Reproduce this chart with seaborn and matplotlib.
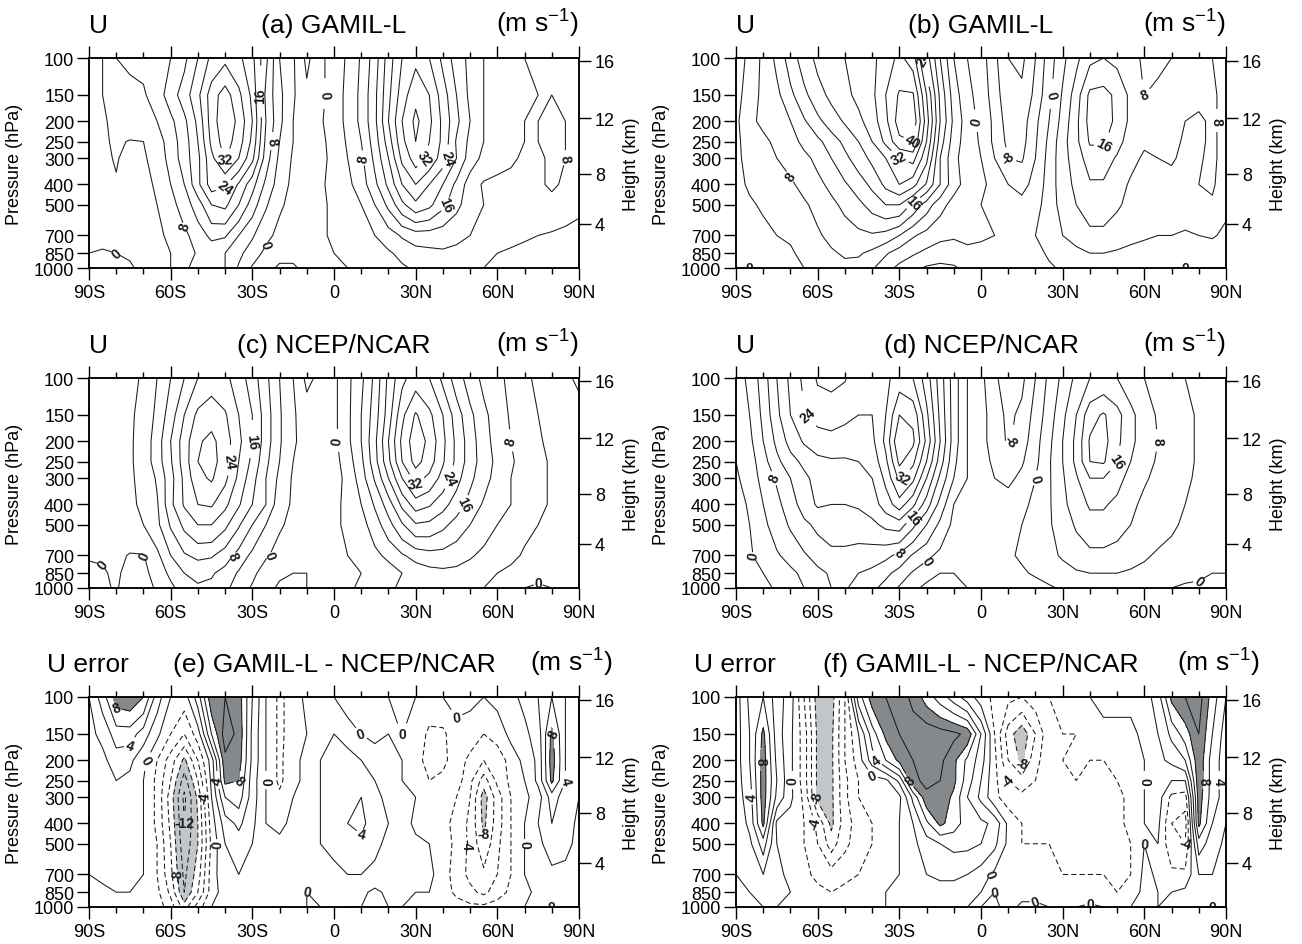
import numpy as np
import matplotlib
matplotlib.use("Agg")
import matplotlib.pyplot as plt
from matplotlib.ticker import FixedLocator, FixedFormatter, NullLocator
import seaborn as sns

# ---------------- data ----------------
PLEV = [100, 150, 200, 250, 300, 400, 500, 700, 850, 1000]
LATS = list(range(-90, 91, 5))
P_TICKS = [100, 150, 200, 250, 300, 400, 500, 700, 850, 1000]
LAT_TICKS = [-90, -60, -30, 0, 30, 60, 90]
LAT_LABELS = ["90S", "60S", "30S", "0", "30N", "60N", "90N"]
LAT_MINOR = [-80, -70, -50, -40, -20, -10, 10, 20, 40, 50, 70, 80]
HEIGHT_KM = [4, 8, 12, 16]

# rows = PLEV (100 ... 1000 hPa), columns = LATS (90S ... 90N every 5 deg)
U_A = [
    [3, 4, 8, 9, 9, 10, 12, 15, 20, 25, 27, 25, 21, 13, 4, 0.5, -5, -1, 2, 4.5, 8.5, 14, 22, 28, 31, 28, 23, 18, 15, 12, 10, 9, 8, 8, 7, 6, 5],
    [3, 4, 5.5, 6.5, 7.5, 10, 14, 18, 23, 30, 34, 29, 23, 11, 5, 0.5, -3, -1, 2, 5, 9, 15, 23, 30, 35, 32, 26, 20, 15, 12, 10, 9, 8.5, 8, 8, 7, 6],
    [3, 3.5, 5, 6, 7, 8, 11, 15, 21, 30, 35, 31, 24, 12, 5, 0, -2, -0.5, 2, 5, 9, 15, 24, 32, 37, 33, 27, 21, 16, 12, 10, 9, 8, 8, 8.5, 8, 7],
    [3, 3.5, 4.5, 3.8, 4, 6, 10, 14, 20, 29, 34, 30, 23, 11, 4, 0, -1.5, -1, 1.5, 4.5, 8, 14, 22, 31, 36, 32, 27, 19.5, 15, 12, 10, 9, 8, 8, 8.5, 8, 7],
    [3, 3.5, 4.2, 3.2, 3.5, 5.5, 9.5, 14, 19, 27, 32.5, 28, 21, 10, 3, -0.5, -2, -1, 1, 4, 7, 13, 20, 29, 34, 31, 26, 20, 14, 11, 9.5, 8.5, 7.5, 7.5, 8.5, 8, 7],
    [3, 3, 3.8, 3, 3, 4.5, 8, 12, 19, 26, 24.5, 19.5, 13.5, 7, 2, -1, -2, -0.5, 1, 3, 6, 11, 17, 24, 28, 24, 20, 15, 10, 7.5, 7, 7, 7, 7.5, 8.5, 7.5, 6],
    [2.5, 2.5, 3, 2.5, 2.5, 4, 6.5, 10, 14, 20, 21, 16, 10, 4.5, 0.5, -1, -1.5, -0.5, 0.5, 2, 4, 8, 13, 19, 23, 21, 17, 13, 10, 8, 7, 6.5, 6.5, 6.5, 7, 6, 5],
    [1, 1.5, 2, 2.5, 3, 3.5, 4.5, 7, 10, 13, 12.5, 8, 4.5, 1, -1, -1.5, -1.5, -0.5, 0.5, 1.5, 2.5, 4, 6, 8.5, 10, 10, 9.5, 9, 8, 7, 5.5, 5, 4.5, 4, 3.5, 3, 2.5],
    [0, -0.5, 0, 0.5, 1.5, 3, 4, 6, 8.5, 9.5, 8, 5, 2, -1, -3, -3, -2, -1, 0, 1, 1.5, 2.5, 3.5, 5, 6.5, 7, 7.5, 7, 6.5, 5, 4, 3.5, 3, 2.5, 2, 1.5, 1],
    [-0.5, -1, -1, -0.5, 1, 2.5, 4, 7.5, 9, 9.5, 8, 3.5, -0.5, -3, -4.5, -4.5, -3, -1.5, -0.5, 0, 1, 1.5, 2.5, 3.5, 4.5, 5.5, 6, 5.5, 5, 4, 3, 2, 1.5, 1, 1, 0.5, 0],
]

U_B = [
    [2, 5, 9, 13, 18, 22, 25, 27, 28, 29, 31, 34, 37, 34, 22, 12, 4, 0, -2, -7, -12, -13, -8, -2, 3, 7, 11, 12, 11, 9, 7.5, 7, 8, 8.5, 9, 8, 6],
    [2.5, 6, 9, 11, 15, 19, 22.5, 25, 27, 29, 31, 36, 40.5, 40.5, 28, 15, 6, 1, -1.5, -6, -11, -11, -7, -1, 4.5, 10, 17, 17.5, 15, 11, 8, 9, 10, 9, 9.5, 9, 6],
    [3, 7.5, 8.5, 9.5, 12, 15.5, 19, 22, 24.5, 27, 30, 35, 42, 43, 30, 16, 7, 2, -1, -5, -10, -10, -5, 0, 5.5, 11, 17.5, 18, 15, 11, 8.5, 9.5, 10, 8, 7, 9, 6],
    [3, 6, 7.5, 8.5, 10.5, 13, 15, 18, 21, 24, 28, 33, 39, 40, 28, 14, 6, 2, -0.5, -5, -9, -9.5, -4.5, 1, 6.5, 11, 16.5, 16.5, 13.5, 10, 8.5, 9, 9, 7.5, 7, 9, 6],
    [3, 5.5, 6.5, 8, 9, 11, 13, 16, 19, 22, 25, 28, 32, 33.5, 25, 12, 5, 2, 0, -4, -8, -8.5, -4, 1.5, 6.5, 10, 14, 14, 11.5, 9, 7.5, 8, 8.5, 7, 7.5, 9, 6],
    [3, 4.5, 5.5, 6.5, 7.5, 9, 11, 13, 15.5, 18, 21, 25, 28, 25.5, 19.5, 12, 5.5, 2.5, 1, -1.5, -4, -5, -3, 2, 6, 9, 11.5, 11.5, 9.5, 7.5, 6.5, 6.5, 6.5, 6.5, 8, 8.5, 6],
    [2.5, 3.5, 4.5, 5, 6, 7.5, 9, 11, 13, 15, 17.5, 20, 20, 15, 10, 5.5, 2.5, 1, 0, -1, -2.5, -3, -1.5, 2, 5.5, 8, 10, 10, 8.5, 7, 6, 5.5, 5.5, 6, 7.5, 7.5, 5],
    [1.5, 2, 3, 4, 4.5, 6, 7.5, 9, 10, 11, 11.5, 10.5, 8, 4.5, 2.5, 1, 0.5, 1, 0.5, 0, -1, -1, 0, 1.5, 4, 5.5, 7, 7, 6, 5, 4.5, 4, 4, 3.5, 4, 4.5, 3],
    [0.5, 1, 1.5, 2.5, 3.5, 5, 6.5, 7.5, 8.5, 8.5, 7, 4.5, 2, 0.5, -1, -2, -2, -1, -1, -1, -1.5, -2, -1, 0.5, 2, 3, 4, 4, 3.5, 3, 2.5, 2, 1.5, 1.5, 1.5, 1.5, 1],
    [0, 0, 0.5, 1.5, 2.5, 4, 5.5, 6.5, 7, 6.5, 4.5, 1.5, -1, -3, -4.5, -5, -4.5, -3, -1.5, -2, -3, -4, -3.5, -0.5, 0.5, 1, 1.5, 1.5, 1.5, 1, 0.5, 0.5, 0, 0, 0, 0, 0],
]

U_C = [
    [2, 2, 2.5, 3, 4.5, 8, 12, 16, 20, 22, 21, 18, 14, 9, 4, 0, -5, -3, -1, 3, 7, 13, 21, 27, 30, 28, 23, 18, 14, 11, 9, 7, 4.5, 3.5, 2, 0.5, -0.5],
    [2, 2, 3, 3.5, 5, 9, 14, 20, 25, 26.5, 24.5, 20, 16, 10, 4.5, 0.5, -2, -2, -1, 3, 8, 14, 22, 31, 36.5, 33, 28, 22, 17, 13, 10, 7.5, 5.5, 4, 3, 2, 1],
    [2, 2, 3, 3.5, 5.5, 10, 16, 22, 27.5, 29, 26, 21, 16, 10, 4.5, 0.5, -1.5, -2, -1, 3, 8, 15, 24, 33, 38.5, 35, 29, 23, 18, 13.5, 10.5, 8, 6, 4.5, 3, 2, 1.5],
    [2, 2, 3, 3.5, 5.5, 10, 15.5, 22, 28, 29.5, 26, 20, 15, 9, 4, 0, -1.5, -2, -1.5, 2, 7, 14.5, 23, 32, 37.5, 34, 28.5, 23, 18, 14, 11, 8.5, 6.5, 5, 3.5, 2.5, 2],
    [2, 2, 3, 3.5, 5, 8.5, 14.5, 21, 27, 28.5, 25, 19, 13.5, 8, 3, -0.5, -1.5, -2, -1.5, 1, 6, 12.5, 20, 28, 33.5, 31, 26.5, 21.5, 17, 13.5, 10.5, 8, 6.5, 5, 3.5, 2.5, 2],
    [2, 2, 3, 3.5, 4.5, 7.5, 15, 20.5, 24, 24.5, 21, 16.5, 12, 8, 1.5, -0.5, -1.5, -1.5, -1, 1, 4, 8.5, 14, 21, 26, 24.5, 21.5, 18, 14.5, 11.5, 9.5, 8, 6.5, 5, 3.5, 2.5, 2],
    [2, 2, 2.5, 3, 4, 7, 12.5, 17, 20, 20, 17, 12.5, 8, 4, 0.5, -1, -2, -1.5, -0.5, 0.5, 2.5, 6, 10.5, 15.5, 19.5, 19, 17, 14.5, 12, 10, 8, 6.5, 5, 4, 3, 2, 1.5],
    [0.2, 0.3, 1, -0.3, -0.2, 3, 8, 11.5, 13, 12.5, 10, 6.5, 3, 0.5, -1.5, -2.5, -3, -2, -1, 0, 1, 3, 5, 7.5, 9.5, 10.5, 10.5, 9.5, 8.5, 7, 6, 5, 3.5, 2.5, 2, 1.5, 1],
    [-0.5, -0.3, 0.5, -1, -1, 1.5, 5, 8, 9, 8.5, 6.5, 3.5, 1, -2, -3.5, -4, -4, -3, -2, -0.5, 0, 1, 2, 4, 5.5, 6.5, 7, 7, 6, 5, 4, 3, 2, 1, 0.5, 0.5, 1],
    [-1, -0.5, 0.3, -1.5, -1.5, 0.5, 3, 6, 7.5, 7, 5, 2, -0.5, -3, -4.5, -4.5, -4, -3, -2, -0.5, 0.5, 2, 3.5, 4.5, 5.5, 6, 6, 6, 5, 4, 2.5, 1, 0, -0.5, 0, 0.5, 0.5],
]

U_D = [
    [2, 5, 10, 16, 21, 25, 28.5, 29, 28.3, 26, 25, 27, 30, 28, 22, 14, 6, 0, -3, -7, -11, -9, -4, 1, 5, 9, 12, 13, 12, 10, 8, 6, 5, 4, 3, 2.5, 2],
    [1.5, 4, 9, 15, 20, 23.5, 25.5, 26, 25, 24, 24, 28, 36, 35, 25, 15, 6, 0, -2.5, -6, -9, -7, -2.5, 2, 7, 12, 18.5, 20.5, 17.5, 13, 10, 7.5, 6, 5, 3.5, 2.5, 2],
    [1, 3, 8, 13, 17.5, 20.5, 22, 22.5, 22, 22, 23, 29, 40, 37, 27, 16, 6, 0, -2.5, -6, -8.5, -6, -1.5, 3, 8, 13, 20.5, 21.5, 17, 13, 10, 8, 6.5, 5, 3.5, 2.5, 2],
    [0, 2, 6.5, 11, 14.5, 17, 19, 19.5, 19.5, 20, 21.5, 27, 37, 33, 24, 14, 5, 0, -2, -5, -6.5, -4.5, -1, 3.5, 8, 13, 20, 20.5, 16, 12, 9.5, 7.5, 6, 5, 3.5, 2.5, 2],
    [-0.5, 1.5, 5.5, 8.5, 12, 15, 17.5, 17.5, 17.5, 18, 20, 25, 33, 29, 20, 11, 4, 0, -1.5, -4, -5, -3, 0, 3.5, 7.5, 11.5, 16, 16, 13.5, 10.5, 8.5, 7, 5.5, 4.5, 3.5, 2.5, 2],
    [-1.5, 0.5, 4, 7, 10, 14, 16.5, 16, 16, 16.5, 18, 22, 26, 21, 14, 6.5, 0, -1, -0.5, -1.5, -2, -1, 1, 3.5, 7, 10, 12.5, 12.5, 11, 9, 7, 6, 5, 4, 3, 2, 1.5],
    [-2, 0, 3, 6, 8.5, 11, 13, 14, 14, 14, 15, 17, 18, 13, 8, 3, -1, -1.5, -0.5, -0.5, -1, 0, 1.5, 3.5, 6, 8.5, 10.5, 10.5, 9.5, 8, 6.5, 5.5, 4.5, 3.5, 2.5, 1.5, 1],
    [-1.5, -0.5, 1.5, 3.5, 5.5, 7.5, 9.5, 11, 11, 10.5, 10, 9, 7, 3.5, 1, -1, -2, -1.5, -0.5, 0, -0.5, 0.5, 1.5, 3, 4.5, 6, 7, 7, 6.5, 5.5, 4.5, 3.5, 3, 2, 1.5, 1, 0.5],
    [-1, -1, 0, 1.5, 3, 5, 7, 8.5, 8.5, 8, 7, 5, 2.5, -0.5, -2.5, -4, -4, -3, -1.5, -0.5, -1, -0.5, 0.5, 1.5, 2.5, 3.5, 4, 4, 4, 3.5, 3, 2, 1.5, 1, 0.5, 0, 0],
    [-1, -1.5, -1, 0.5, 2, 4, 6, 8, 8.3, 7, 5, 2.5, -0.5, -3, -5, -6, -5.5, -4, -2, -0.5, -1, -2, -1.5, -0.5, 0.5, 1.5, 2, 2, 2, 1.5, 1, 0.5, 0, -0.5, -0.5, -0.5, -0.5],
]

# (e) GAMIL-L - NCEP/NCAR (left column)
U_E = [
    [2, 5, 9, 9.5, 8, 3, 0, -1, 3, 9.5, 10, 9, 4, 0, -2.5, -1, 0.5, 1, 0, -1, -1, -0.5, 0, 0.5, 0, -0.5, 0, 0.5, 0.5, 0, 0.5, 1.5, 2.5, 4, 6, 4, 2],
    [1.5, 2.5, 5, 5, 3, 0.5, -2, -4, -1, 6, 11, 9.5, 3.5, 0, -2.5, -1, 0, 1, 2, 1, 0, -0.5, 0, 0, -0.5, -2.5, -2.5, -0.5, -1, -2, -1, 0.5, 1.5, 3, 8.5, 4, 2],
    [1, 1.5, 3, 2.5, 0.5, -2, -5, -8.5, -4, 1, 9.5, 9, 3.5, 0, -2.5, -0.5, 0.5, 2, 3.5, 3, 2, 1, 0.5, 0, -1, -3, -2.5, -1, -2.5, -4, -3.5, -1, 0.5, 2.5, 9, 4, 2],
    [1, 1, 2, 1.5, 0, -2.5, -6, -11, -6, 0.5, 8.5, 8, 3, 0, -2.5, -0.5, 0.5, 2, 3.5, 3.5, 3, 2, 1, 0, -0.5, -2, -1.5, -1, -3.5, -7, -3.5, -1.5, 0, 2.5, 8.5, 4, 2],
    [1, 1, 1.5, 1, 0, -2.5, -7, -12.5, -7.5, 0, 6, 7, 3, 0, -1.5, 0, 0.5, 2, 3.5, 4, 4, 2.5, 1.5, 0.5, 0, -1, -1.5, -2, -4, -9, -5, -2, -0.5, 1, 5, 3, 2],
    [0.5, 1, 1, 0.5, 0, -2.5, -6.5, -12, -8, -1, 3, 4.5, 2.5, 0, -0.5, 0.5, 1, 2, 3, 4, 4.5, 3, 2, 1, -0.5, -1, -1.5, -2.5, -4.5, -8.5, -5, -2, 0, 2, 4, 3, 1.5],
    [0.5, 0.5, 1, 0.5, 0, -2, -6, -11.5, -8, -1.5, 2, 3, 2, 0.5, 0.5, 1, 1.5, 2, 2.5, 3.5, 3.5, 2.5, 1.5, 1, 0.5, 0, -1, -2.5, -4.5, -7.5, -4.5, -2, 0, 1.5, 3, 2.5, 1.5],
    [0, 0.5, 0.5, 0.5, 0, -2, -5.5, -10.5, -7, -1, 1.5, 2, 1.5, 1, 1, 1.5, 1, 1, 1.5, 2, 2, 1.5, 1, 0.5, 0.5, 0.5, -1, -3, -4.5, -5.5, -4, -2, 0, 1, 1.5, 1.5, 1],
    [0, -0.5, 0, 0, 0, -1.5, -4.5, -10, -6, -1, 1, 1, 1, 0.5, 0.5, 0.5, 0, 0.5, 0.5, 0.5, 0.5, -0.5, 0.5, 0.5, 0, 0, -1, -2.5, -3.5, -4.5, -3, -1.5, -0.5, 0.5, 0.5, 0.5, 0.5],
    [0, 0, 0, 0, 0, -1, -3, -7, -3, 0, 0.5, 0.5, 0.5, 0, 0.3, 0.3, 0, 0, 0.3, 0, 0, 0, 0, 0, 0, 0, -0.5, -1, -1.5, -1.5, -1, -0.5, 0, 0.5, 0, 0, 0],
]

# (f) GAMIL-L - NCEP/NCAR (right column)
U_F = [
    [1, 4.5, 6, 3, 1, -4, -9, -9, -4, 5, 9, 10, 11, 9.5, 7, 5, 3, 1, -1, -2.5, -3.5, -4, -3, -2, -1, -1, 0, 1, 1, 0.5, 1, 3, 8.5, 10, 11, 7, 4],
    [1, 4, 8.5, 3, 0.5, -3, -8.5, -8.5, -4, 0, 5, 8.5, 10, 11, 11.5, 11, 10.5, 9.5, 4, -2, -7, -9.5, -6, -2.5, -2, -2, -1.5, -1, -1, -0.5, 0.5, 2, 4.5, 7, 10, 6, 3],
    [1, 4, 9, 3.5, 0.5, -3, -8.5, -8.5, -4, -1, 3, 6, 8.5, 10, 11, 10.5, 8.5, 5.5, 3, -1.5, -6, -8.5, -4.5, -3, -2, -1.5, -2, -2, -1.5, -1, 0, 1.5, 2.5, 4, 9.5, 5, 3],
    [1, 3.5, 9, 4, 0.5, -3, -8.5, -8.5, -4.5, -2, -1, -0.5, 2.5, 9.5, 10.5, 10, 8.5, 5, 2, -1.5, -4, -5, -4, -3, -2.5, -2, -2, -2, -2, -1, 0, 1, 0, 0, 9.5, 5, 3],
    [1, 3, 9, 3.5, 0.5, -2.5, -8.5, -8.5, -4.5, -2, -1, -1, -0.5, 4.5, 9.5, 9.5, 7.5, 4, 1.5, -1.5, -3, -3.5, -3, -2.5, -2.5, -2, -2, -2.5, -2.5, -1.5, 0, 1, -2.5, -3, 9, 5, 3],
    [0.5, 2.5, 8.5, -0.5, -1, -2, -4.5, -8.5, -5, -3, -2, -1, 0, 2, 5.5, 8.5, 7, 5, 4.5, 3.5, -0.5, -2, -2.5, -2.5, -2.5, -2.5, -2.5, -2.5, -2.5, -1.5, 0, 0.5, -4, -5, 8.5, 4, 2],
    [0.5, 1.5, 5, 0, -1, -2, -4, -7, -4.5, -3, -2, -1, 0, 1.5, 3, 4, 4.5, 4.5, 4, 2.5, -0.5, -2, -2, -2, -2.5, -2.5, -2.5, -2.5, -2.5, -2, 0, 0, -3.5, -4, 5, 3, 1.5],
    [0, 0.5, 2, 0.5, -0.5, -1.5, -2.5, -3, -2.5, -2, -1.5, -1, 0, 1, 2, 2.5, 2.5, 2, 1, -0.5, -0.5, -1, -1.5, -1.5, -2, -2, -2, -2, -2.5, -2, 0.5, -0.3, -1.5, -1.5, 2, 2, 1],
    [0, 0, 0.5, 0.5, 0, -0.5, -1.5, -2, -1.5, -1, -0.5, 0, 0.5, 1, 1, 1, 1, 0.5, 0, 0, -0.5, -0.5, -0.5, -1, -1, -1, -1, -1.5, -2, -1, 0.5, 0, 0, 0.5, 1, 1, 0.5],
    [0, 0, 0, 0, 0, 0, -0.5, -0.5, -0.5, -0.3, 0, 0, 0.3, 0.5, 0.5, 0.5, 0.5, 0, 0, 0.3, -0.5, 0.3, 0.3, 0, 0, 0, 0.3, 0, -0.5, 0, 0.5, 0, 0.3, 0.5, 0.5, 0, 0],
]

TITLES = [
    ("U", "(a) GAMIL-L"), ("U", "(b) GAMIL-L"),
    ("U", "(c) NCEP/NCAR"), ("U", "(d) NCEP/NCAR"),
    ("U error", "(e) GAMIL-L - NCEP/NCAR"), ("U error", "(f) GAMIL-L - NCEP/NCAR"),
]
UNITS = r"(m s$^{-1}$)"

# ---------------- style ----------------
sns.set_theme(style="ticks", rc={
    "axes.edgecolor": "black", "axes.linewidth": 1.1,
    "xtick.color": "black", "ytick.color": "black",
    "text.color": "black", "axes.labelcolor": "black",
})
plt.rcParams["font.family"] = ["Liberation Sans", "DejaVu Sans"]
plt.rcParams["mathtext.fontset"] = "custom"
plt.rcParams["mathtext.rm"] = "Liberation Sans"
plt.rcParams["mathtext.default"] = "regular"

shade = sns.color_palette(["#c3c6c9", "#86898c"])
LIGHT, DARK = shade[0], shade[1]

W, H = 1302, 945
COL_LEFT = [89, 736]
ROW_TOP = [59, 379, 698]
AW, AH = 490, 210


def z_to_p(zkm):
    z = zkm * 1000.0
    if z <= 11000:
        return 1013.25 * (1 - 0.0065 * z / 288.15) ** 5.25588
    return 226.32 * np.exp(-(z - 11000) / 6341.62)


fig = plt.figure(figsize=(W / 100, H / 100), dpi=100)

fields = [U_A, U_B, U_C, U_D, U_E, U_F]
for i, fld in enumerate(fields):
    field = np.array(fld, float)
    assert field.shape == (len(PLEV), len(LATS)), (i, field.shape)
    diff = i >= 4
    r, c = divmod(i, 2)
    l, t = COL_LEFT[c], ROW_TOP[r]
    ax = fig.add_axes([l / W, 1 - (t + AH) / H, AW / W, AH / H])
    X, Y = np.meshgrid(LATS, PLEV)

    if diff:
        ax.contourf(X, Y, field, levels=[-100, -8, 8, 100],
                    colors=[LIGHT, (1, 1, 1, 0), DARK])
        lv = np.arange(-14, 15, 2)
        styles = [(0, (5, 3)) if v < 0 else "solid" for v in lv]
        cs = ax.contour(X, Y, field, levels=lv, colors="k",
                        linewidths=0.75, linestyles=styles)
        lab = [v for v in lv if v % 4 == 0]
    else:
        lv = np.arange(-16, 48, 4)
        cs = ax.contour(X, Y, field, levels=lv, colors="k",
                        linewidths=0.75, linestyles="solid")
        lab = [v for v in lv if v % 8 == 0]
    texts = ax.clabel(cs, levels=lab, fmt=lambda v: f"{int(round(v))}",
                      fontsize=10, inline=True, inline_spacing=2)
    for tx in texts:
        tx.set_fontweight("bold")

    ax.set_yscale("log")
    ax.set_ylim(1000, 100)
    ax.set_xlim(-90, 90)
    ax.yaxis.set_major_locator(FixedLocator(P_TICKS))
    ax.yaxis.set_major_formatter(FixedFormatter([str(p) for p in P_TICKS]))
    ax.yaxis.set_minor_locator(NullLocator())
    ax.xaxis.set_major_locator(FixedLocator(LAT_TICKS))
    ax.xaxis.set_major_formatter(FixedFormatter(LAT_LABELS))
    ax.xaxis.set_minor_locator(FixedLocator(LAT_MINOR))
    ax.tick_params(axis="x", which="major", direction="out", length=8.6, width=1,
                   top=True, bottom=True, labeltop=False, labelsize=13, pad=3)
    ax.tick_params(axis="x", which="minor", direction="out", length=4.3, width=1,
                   top=True, bottom=True)
    ax.tick_params(axis="y", which="major", direction="out", length=8.6, width=1,
                   left=True, right=False, labelsize=13, pad=2)
    ax.set_ylabel("Pressure (hPa)", fontsize=13)
    ax.yaxis.set_label_coords(-0.135, 0.5)

    ax2 = ax.twinx()
    ax2.set_yscale("log")
    ax2.set_ylim(1000, 100)
    ax2.yaxis.set_major_locator(FixedLocator([z_to_p(z) for z in HEIGHT_KM]))
    ax2.yaxis.set_major_formatter(FixedFormatter([str(z) for z in HEIGHT_KM]))
    ax2.yaxis.set_minor_locator(NullLocator())
    ax2.tick_params(axis="y", which="major", direction="out", length=8.6, width=1,
                    right=True, labelsize=13, pad=3)
    ax2.set_ylabel("Height (km)", fontsize=13)
    ax2.yaxis.set_label_coords(1.09, 0.5)

    left_str, mid_str = TITLES[i]
    yb = 1 + 26 / AH
    if r == 2:
        lx, rx = -42 / AW, 1 + 34 / AW
    else:
        lx, rx = 0.0, 1.0
    ax.text(lx, yb, left_str, transform=ax.transAxes, ha="left", va="baseline", fontsize=19)
    ax.text(0.5, yb, mid_str, transform=ax.transAxes, ha="center", va="baseline", fontsize=19)
    ax.text(rx, yb, UNITS, transform=ax.transAxes, ha="right", va="baseline", fontsize=19)

fig.savefig("out.png", dpi=100)
